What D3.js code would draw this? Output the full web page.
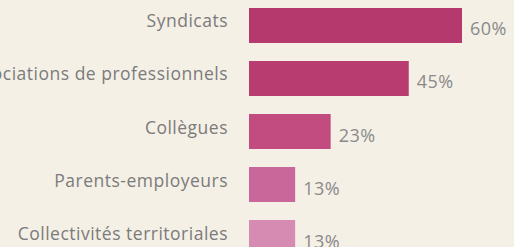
<!DOCTYPE html>
<html><head><meta charset="utf-8">
<script src="https://cdn.jsdelivr.net/npm/d3@7"></script>
<style>
html,body{margin:0;padding:0;background:#f4f0e6;}
svg{display:block;}
</style></head>
<body>
<script>
const categories = ["Syndicats","Associations de professionnels","Collègues","Parents-employeurs","Collectivités territoriales"];
const values = [60,45,23,13,13];
const valueLabels = ["60%","45%","23%","13%","13%"];
const colors = ["#b6396d","#b93c71","#c24b80","#c9679a","#d68bb2"];

const W = 514, H = 247;
const svg = d3.select("body").append("svg").attr("width",W).attr("height",H);
svg.append("rect").attr("width",W).attr("height",H).attr("fill","#f4f0e6");

const x = d3.scaleLinear().domain([0,60]).range([249,462]);
const y = d3.scaleBand().domain(categories).range([8,255]).paddingInner(0.34).paddingOuter(0);

const g = svg.append("g");
g.selectAll("rect.bar").data(categories).join("rect")
  .attr("class","bar")
  .attr("x",x(0))
  .attr("y",d=>y(d))
  .attr("width",(d,i)=>x(values[i])-x(0))
  .attr("height",y.bandwidth())
  .attr("fill",(d,i)=>colors[i]);

g.selectAll("text.cat").data(categories).join("text")
  .attr("class","cat")
  .attr("x",228)
  .attr("y",d=>y(d)+y.bandwidth()/2-5)
  .attr("text-anchor","end")
  .attr("dominant-baseline","central")
  .attr("font-family","'Open Sans', sans-serif")
  .attr("font-size",17.5)
  .attr("letter-spacing",0.5)
  .attr("fill","#7b7b7b")
  .text(d=>d);

g.selectAll("text.val").data(categories).join("text")
  .attr("class","val")
  .attr("x",(d,i)=>x(values[i])+8)
  .attr("y",d=>y(d)+y.bandwidth()/2+3)
  .attr("text-anchor","start")
  .attr("dominant-baseline","central")
  .attr("font-family","'Open Sans', sans-serif")
  .attr("font-size",18)
  .attr("letter-spacing",0.5)
  .attr("fill","#8a8a8a")
  .text((d,i)=>valueLabels[i]);
</script>
</body></html>
